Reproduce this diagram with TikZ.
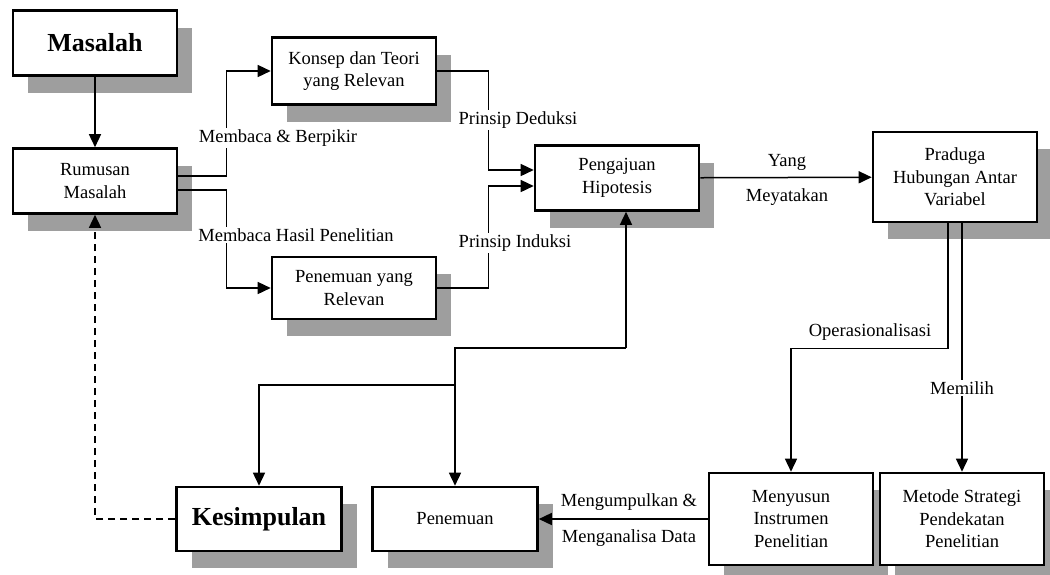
\documentclass[tikz,border=0pt]{standalone}
\usepackage{fontspec}
\setmainfont{Liberation Serif}
\usetikzlibrary{positioning,calc,shadows,arrows.meta}

\begin{document}
\begin{tikzpicture}[x=1pt,y=-1pt,
                    line width=1.5pt,>={Triangle[length=13pt,width=12pt]},
                    main box/.style={rectangle,draw,fill=white,line width=2.6pt,align=center,
                      minimum width=164pt,minimum height=65pt,inner sep=3pt,
                      font=\fontsize{18.5}{22.5}\selectfont,
                      drop shadow={shadow xshift=15pt,shadow yshift=-17pt,fill=black!38,opacity=1}},
                    big box/.style={main box,font=\fontsize{26}{30}\selectfont\bfseries},
                    tall box/.style={main box,minimum height=92pt},
                    link label/.style={fill=white,inner sep=1.5pt,font=\fontsize{18.5}{22.5}\selectfont}
                   ]
  \useasboundingbox (0,0) rectangle (1050,574);

  \node[big box] (masalah) at (95,43) {Masalah};
  \node[main box] (rumusan) at (95,181) {Rumusan\\Masalah};
  \node[main box,minimum height=67pt] (konsep) at (354,71) {Konsep dan Teori\\yang Relevan};
  \node[main box,minimum height=62pt] (relevan) at (354,288) {Penemuan yang\\Relevan};
  \node[main box] (pengajuan) at (617,178) {Pengajuan\\Hipotesis};
  \node[tall box,minimum height=90pt] (praduga) at (955,177) {Praduga\\Hubungan Antar\\Variabel};
  \node[big box,minimum height=64pt,minimum width=165pt] (kesimpulan) at (259,519) {Kesimpulan};
  \node[main box,minimum height=64pt,minimum width=165pt] (penemuan) at (455,519) {Penemuan};
  \node[tall box] (menyusun) at (791,519) {Menyusun\\Instrumen\\Penelitian};
  \node[tall box] (metode) at (962,519) {Metode Strategi\\Pendekatan\\Penelitian};

  \coordinate (hub) at (626,348);
  \coordinate (split) at (455,385);

  \draw[->] (masalah) -- (rumusan);
  \draw[->] ([yshift=5pt]rumusan.east) -- ++(48,0) |- (konsep.west);
  \draw[->] ([yshift=-9pt]rumusan.east) -- ++(48,0) |- (relevan.west);
  \draw[->] (konsep.east) -- ++(51,0) |- ([yshift=8pt]pengajuan.west);
  \draw[->] (relevan.east) -- ++(51,0) |- ([yshift=-8pt]pengajuan.west);
  \draw[->] (pengajuan) -- (praduga);
  \draw[->] ([xshift=-7pt]praduga.south) -- ++(0,125) -| (menyusun.north);
  \draw[->] ([xshift=7pt]praduga.south) -- (metode.north);
  \draw[->] (menyusun) -- (penemuan);
  \draw[->] (hub) -- (hub |- pengajuan.south);
  \draw[->] (hub) -| (penemuan.north);
  \draw[->] (split) -| (kesimpulan.north);
  \draw[->,dash pattern=on 7pt off 5pt] (kesimpulan.west) -| (rumusan.south);

  \node[link label] (baca) at (278,138) {Membaca \& Berpikir};
  \node[link label] (hasil) at (296,235) {Membaca Hasil Penelitian};
  \node[link label] (deduksi) at (518,120) {Prinsip Deduksi};
  \node[link label] (induksi) at (515,243) {Prinsip Induksi};
  \node[link label,fill=none] (yang) at (787,162) {Yang};
  \node[link label,fill=none] (nyatakan) at (787,197) {Meyatakan};
  \node[link label,fill=none] (operasi) at (870,332) {Operasionalisasi};
  \node[link label] (pilih) at (962,388) {Memilih};
  \node[link label,fill=none] (kumpul) at (629,502) {Mengumpulkan \&};
  \node[link label,fill=none] (analisa) at (629,538) {Menganalisa Data};
\end{tikzpicture}
\end{document}
